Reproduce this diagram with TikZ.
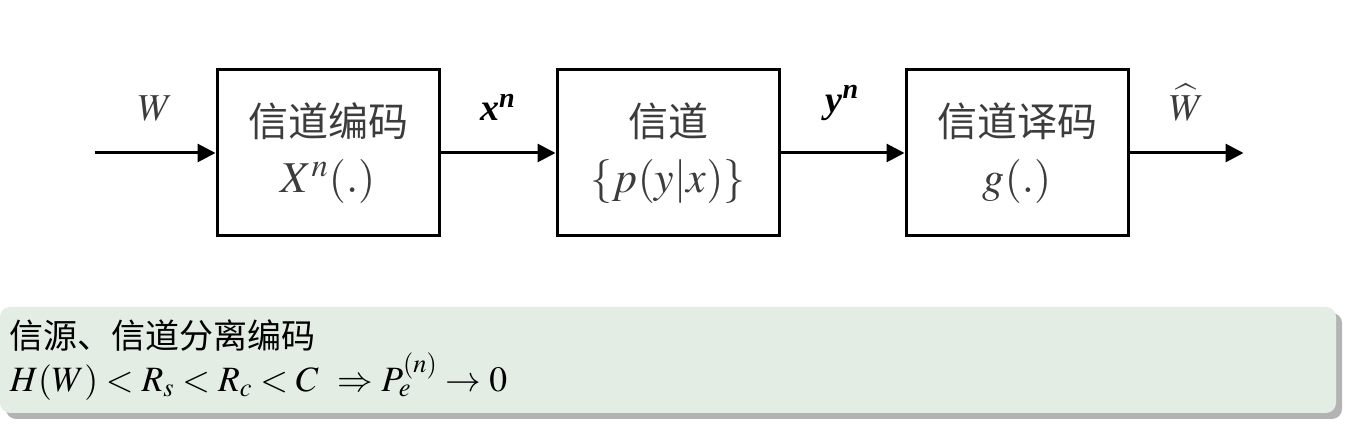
\documentclass[tikz,border=0pt]{standalone}
\usepackage{mathptmx}
\usepackage[no-math]{fontspec}
\setmainfont{Liberation Serif}
\newfontfamily\cjk{Noto Sans CJK SC}
\usetikzlibrary{positioning,arrows.meta,shadows}

\definecolor{noteback}{RGB}{227,237,228}
\definecolor{boxtext}{RGB}{60,60,60}
\newcommand\blkmath[1]{{\fontsize{22}{28}\selectfont$#1$}}

\tikzset{
  blk/.style={draw, line width=1.5pt, minimum width=111pt, minimum height=83pt,
    align=center, text=boxtext, font=\fontsize{20}{28}\selectfont},
  sig/.style={line width=1.5pt, -{Triangle[length=9pt,width=9pt]}},
  lbl/.style={font=\fontsize{19}{22}\selectfont, above=12pt},
  note/.style={fill=noteback, rounded corners=5pt, outer sep=0pt, inner sep=5pt,
    text width=658pt, minimum height=53pt, align=left,
    font=\fontsize{17}{21.5}\selectfont,
    drop shadow={shadow xshift=3pt, shadow yshift=-3pt, opacity=0.6}},
}

\begin{document}
\begin{tikzpicture}[x=0.5pt, y=0.5pt]
  \useasboundingbox (0,0) rectangle (1345,428);
  % channel blocks
  \node[blk] (enc) at (328,275) {{\cjk 信道编码}\\\blkmath{X^{n}(.)}};
  \node[blk, right=57.5pt of enc] (chan) {{\cjk 信道}\\\blkmath{\{p(y|x)\}}};
  \node[blk, right=62pt of chan] (dec) {{\cjk 信道译码}\\\blkmath{g(.)}};
  \coordinate (src) at (95,275);
  \coordinate[right=57pt of dec] (sink);
  % signals
  \draw[sig] (src) -- node[lbl, text=boxtext] {$W$} (enc);
  \draw[sig] (enc) -- node[lbl] {\textbf{\textit{x}}\textsuperscript{\textbf{\textit{n}}}} (chan);
  \draw[sig] (chan) -- node[lbl] {\textbf{\textit{y}}\textsuperscript{\textbf{\textit{n}}}} (dec);
  \draw[sig] (dec) -- node[lbl, text=boxtext] {$\widehat{W}$} (sink);
  % summary
  \node[note, anchor=south west] (sum) at (0,15)
    {{\cjk 信源、信道分离编码}\\
     {\fontsize{17.8}{21.5}\selectfont$H(W)<R_s<R_c<C\ \Rightarrow P_e^{(n)}\to 0$}};
\end{tikzpicture}
\end{document}
